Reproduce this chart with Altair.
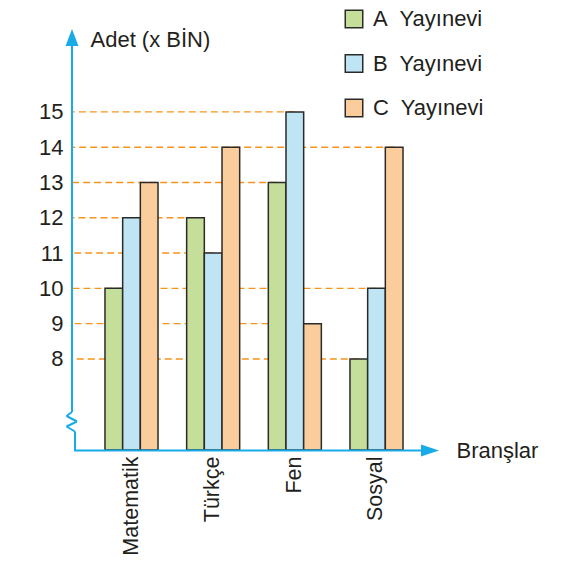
import altair as alt
import pandas as pd

# ---- data ----
categories = ["Matematik", "Türkçe", "Fen", "Sosyal"]
series = ["A", "B", "C"]
values_A = [10, 12, 13, 8]
values_B = [12, 11, 15, 10]
values_C = [13, 14, 9, 14]
y_ticks = [8, 9, 10, 11, 12, 13, 14, 15]
colors = ["#c5df9b", "#bfe4f3", "#fccd9c"]

BASE = 5.42
TOP = 17.32

rows = []
for i, c in enumerate(categories):
    for s, vals in zip(series, [values_A, values_B, values_C]):
        rows.append({"cat": c, "ser": s, "val": vals[i], "base": BASE})
df = pd.DataFrame(rows)

# dashed guide for each tick level runs to the right-most bar with that value
last = {}
for r in rows:
    if r["val"] in y_ticks:
        last[r["val"]] = r
grid = pd.DataFrame([{"cat": r["cat"], "ser": r["ser"], "val": v} for v, r in last.items()])

W, H = 366, 420
BLUE = "#19aae8"
ORANGE = "#f7941d"
TXT = "#231f20"
FS = 22

xscale = alt.Scale(domain=categories, range=[18.67, 345.33], paddingInner=0, paddingOuter=0)
xoff = alt.Scale(domain=series, paddingInner=0, paddingOuter=0.81)
yscale = alt.Scale(domain=[BASE, TOP], nice=False, zero=False)

xaxis = alt.Axis(title="Branşlar", labelAngle=-90, labelFontSize=21.5, labelPadding=6,
                 domain=False, ticks=False, tickSize=0, labelColor=TXT,
                 titleFontSize=FS, titleFontWeight="normal", titleColor=TXT,
                 titleAngle=0, titleX=384, titleY=0, titleAlign="left",
                 titleBaseline="middle")
yaxis = alt.Axis(title="Adet (x BİN)", values=y_ticks, grid=False, domain=False,
                 ticks=False, tickSize=0, labelFontSize=FS, labelPadding=9,
                 labelColor=TXT, titleFontSize=FS, titleFontWeight="normal",
                 titleColor=TXT, titleAngle=0, titleX=18, titleY=9,
                 titleAlign="left", titleBaseline="middle")

legend = alt.Legend(title=None, orient="none", legendX=271, legendY=-22, padding=0,
                    symbolType="square", symbolSize=306, symbolStrokeColor="#2a2a2a",
                    symbolStrokeWidth=1.5, symbolOpacity=1, labelFontSize=FS,
                    labelColor=TXT, labelOffset=8, rowPadding=20.5,
                    labelExpr="datum.label + '\u00a0 Yayınevi'")

gridl = alt.Chart(grid).mark_rule(color=ORANGE, strokeDash=[7, 4], strokeWidth=1.4).encode(
    x=alt.X("cat:N", scale=xscale, sort=categories),
    xOffset=alt.XOffset("ser:N", scale=xoff, sort=series),
    x2=alt.value(0),
    y=alt.Y("val:Q", scale=yscale),
)

bars = alt.Chart(df).mark_bar(stroke="#2a2a2a", strokeWidth=1.5, opacity=1).encode(
    x=alt.X("cat:N", scale=xscale, sort=categories, axis=xaxis),
    xOffset=alt.XOffset("ser:N", scale=xoff, sort=series),
    y=alt.Y("val:Q", scale=yscale, axis=yaxis),
    y2=alt.Y2("base:Q"),
    color=alt.Color("ser:N", scale=alt.Scale(domain=series, range=colors), legend=legend),
)

one = pd.DataFrame({"k": [0]})
deco = []
# axis lines
deco.append(alt.Chart(one).mark_rule(color=BLUE, strokeWidth=2).encode(
    x=alt.value(0), y=alt.value(12), y2=alt.value(382)))
zig = [(0, 382), (-5.5, 386), (5, 391.5), (-5.5, 396.5), (3, 401.5), (3, 420.5)]
for (xa, ya), (xb, yb) in zip(zig[:-1], zig[1:]):
    deco.append(alt.Chart(one).mark_rule(color=BLUE, strokeWidth=2).encode(
        x=alt.value(xa), x2=alt.value(xb), y=alt.value(ya), y2=alt.value(yb)))
deco.append(alt.Chart(one).mark_rule(color=BLUE, strokeWidth=2).encode(
    x=alt.value(2), x2=alt.value(355), y=alt.value(420.5)))
# arrow heads
deco.append(alt.Chart(one).mark_point(shape="M0,-1L0.76,1L-0.76,1Z", filled=True, size=289,
                                      color=BLUE, opacity=1).encode(
    x=alt.value(0), y=alt.value(7.5)))
deco.append(alt.Chart(one).mark_point(shape="M1,0L-1,0.67L-1,-0.67Z", filled=True, size=324,
                                      color=BLUE, opacity=1).encode(
    x=alt.value(358), y=alt.value(420.5)))

chart = alt.layer(gridl, bars, *deco).properties(
    width=W, height=H,
    autosize=alt.AutoSizeParams(type="none"),
    padding={"left": 64, "top": 22, "right": 115, "bottom": 108},
).configure(font="Liberation Sans").configure_view(stroke=None)

chart.save("out.html", embed_options={"renderer": "svg", "actions": False})
